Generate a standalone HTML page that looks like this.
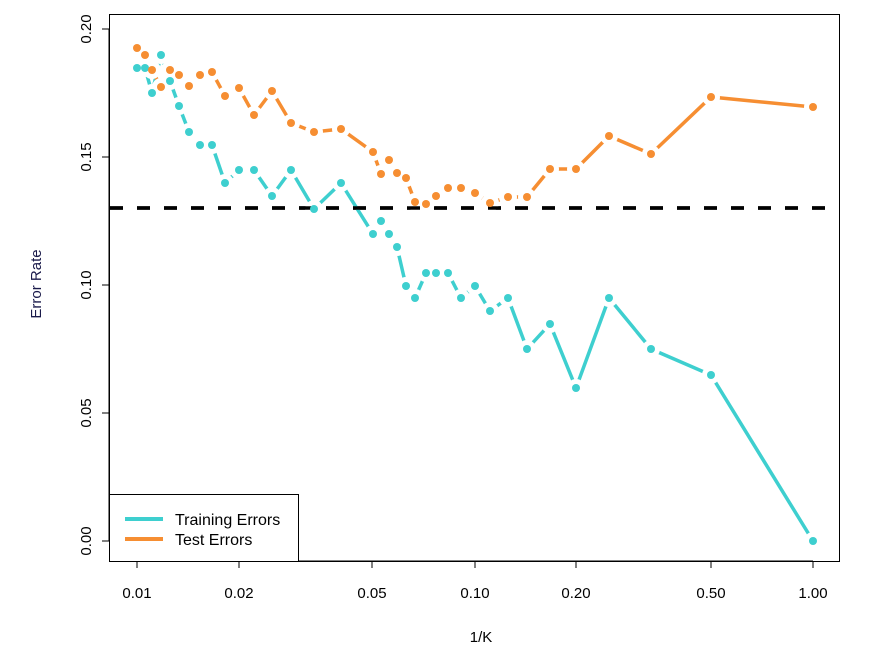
<!DOCTYPE html>
<html><head><meta charset="utf-8"><style>body{margin:0;background:#fff}</style></head><body>
<svg width="877" height="655" xmlns="http://www.w3.org/2000/svg" font-family="Liberation Sans, sans-serif">
<rect x="0" y="0" width="877" height="655" fill="#fff"/>
<g stroke="#000" stroke-width="1">
<rect x="109.5" y="14.5" width="730" height="547" fill="none"/>
<line x1="137" y1="561" x2="813" y2="561"/>
<line x1="137" y1="561" x2="137" y2="568"/><line x1="239" y1="561" x2="239" y2="568"/>
<line x1="372" y1="561" x2="372" y2="568"/><line x1="475" y1="561" x2="475" y2="568"/>
<line x1="576" y1="561" x2="576" y2="568"/><line x1="711" y1="561" x2="711" y2="568"/>
<line x1="813" y1="561" x2="813" y2="568"/>
<line x1="109" y1="29" x2="109" y2="541"/>
<line x1="102" y1="29" x2="109" y2="29"/><line x1="102" y1="157" x2="109" y2="157"/>
<line x1="102" y1="285" x2="109" y2="285"/><line x1="102" y1="413" x2="109" y2="413"/>
<line x1="102" y1="541" x2="109" y2="541"/>
</g>
<g font-size="15" text-anchor="middle" fill="#000">
<text x="137" y="598">0.01</text><text x="239" y="598">0.02</text><text x="372" y="598">0.05</text>
<text x="475" y="598">0.10</text><text x="576" y="598">0.20</text><text x="711" y="598">0.50</text>
<text x="813" y="598">1.00</text>
<text x="481" y="642">1/K</text>
<text transform="translate(91,29) rotate(-90)">0.20</text>
<text transform="translate(91,157) rotate(-90)">0.15</text>
<text transform="translate(91,285) rotate(-90)">0.10</text>
<text transform="translate(91,413) rotate(-90)">0.05</text>
<text transform="translate(91,541) rotate(-90)">0.00</text>
<text transform="translate(41,284) rotate(-90)" fill="#1a1a4a">Error Rate</text>
</g>
<line x1="110" y1="208" x2="839" y2="208" stroke="#000" stroke-width="3.5" stroke-dasharray="13,14"/>
<polyline fill="none" stroke="#3ECFCF" stroke-width="3.5" points="137,68 145,68 152,93 161,55 170,81 179,106 189,132 200,145 212,145 225,183 239,170 254,170 272,196 291,170 314,209 341,183 373,234 381,221 389,234 397,247 406,286 415,298 426,273 436,273 448,273 461,298 475,286 490,311 508,298 527,349 550,324 576,388 609,298 651,349 711,375 813,541"/>
<polyline fill="none" stroke="#F68E32" stroke-width="3.5" points="137,48 145,55 152,70 161,87 170,70 179,75 189,86 200,75 212,72 225,96 239,88 254,115 272,91 291,123 314,132 341,129 373,152 381,174 389,160 397,173 406,178 415,202 426,204 436,196 448,188 461,188 475,193 490,203 508,197 527,197 550,169 576,169 609,136 651,154 711,97 813,107"/>
<g fill="#fff">
<circle cx="137" cy="68" r="9"/><circle cx="145" cy="68" r="9"/><circle cx="152" cy="93" r="9"/><circle cx="161" cy="55" r="9"/><circle cx="170" cy="81" r="9"/><circle cx="179" cy="106" r="9"/><circle cx="189" cy="132" r="9"/><circle cx="200" cy="145" r="9"/><circle cx="212" cy="145" r="9"/><circle cx="225" cy="183" r="9"/><circle cx="239" cy="170" r="9"/><circle cx="254" cy="170" r="9"/><circle cx="272" cy="196" r="9"/><circle cx="291" cy="170" r="9"/><circle cx="314" cy="209" r="9"/><circle cx="341" cy="183" r="9"/><circle cx="373" cy="234" r="9"/><circle cx="381" cy="221" r="9"/><circle cx="389" cy="234" r="9"/><circle cx="397" cy="247" r="9"/><circle cx="406" cy="286" r="9"/><circle cx="415" cy="298" r="9"/><circle cx="426" cy="273" r="9"/><circle cx="436" cy="273" r="9"/><circle cx="448" cy="273" r="9"/><circle cx="461" cy="298" r="9"/><circle cx="475" cy="286" r="9"/><circle cx="490" cy="311" r="9"/><circle cx="508" cy="298" r="9"/><circle cx="527" cy="349" r="9"/><circle cx="550" cy="324" r="9"/><circle cx="576" cy="388" r="9"/><circle cx="609" cy="298" r="9"/><circle cx="651" cy="349" r="9"/><circle cx="711" cy="375" r="9"/><circle cx="813" cy="541" r="9"/>
<circle cx="137" cy="48" r="9"/><circle cx="145" cy="55" r="9"/><circle cx="152" cy="70" r="9"/><circle cx="161" cy="87" r="9"/><circle cx="170" cy="70" r="9"/><circle cx="179" cy="75" r="9"/><circle cx="189" cy="86" r="9"/><circle cx="200" cy="75" r="9"/><circle cx="212" cy="72" r="9"/><circle cx="225" cy="96" r="9"/><circle cx="239" cy="88" r="9"/><circle cx="254" cy="115" r="9"/><circle cx="272" cy="91" r="9"/><circle cx="291" cy="123" r="9"/><circle cx="314" cy="132" r="9"/><circle cx="341" cy="129" r="9"/><circle cx="373" cy="152" r="9"/><circle cx="381" cy="174" r="9"/><circle cx="389" cy="160" r="9"/><circle cx="397" cy="173" r="9"/><circle cx="406" cy="178" r="9"/><circle cx="415" cy="202" r="9"/><circle cx="426" cy="204" r="9"/><circle cx="436" cy="196" r="9"/><circle cx="448" cy="188" r="9"/><circle cx="461" cy="188" r="9"/><circle cx="475" cy="193" r="9"/><circle cx="490" cy="203" r="9"/><circle cx="508" cy="197" r="9"/><circle cx="527" cy="197" r="9"/><circle cx="550" cy="169" r="9"/><circle cx="576" cy="169" r="9"/><circle cx="609" cy="136" r="9"/><circle cx="651" cy="154" r="9"/><circle cx="711" cy="97" r="9"/><circle cx="813" cy="107" r="9"/>
</g>
<line x1="110" y1="208" x2="839" y2="208" stroke="#000" stroke-width="3.5" stroke-dasharray="13,14"/>
<g fill="#3ECFCF">
<circle cx="137" cy="68" r="4"/><circle cx="145" cy="68" r="4"/><circle cx="152" cy="93" r="4"/><circle cx="161" cy="55" r="4"/><circle cx="170" cy="81" r="4"/><circle cx="179" cy="106" r="4"/><circle cx="189" cy="132" r="4"/><circle cx="200" cy="145" r="4"/><circle cx="212" cy="145" r="4"/><circle cx="225" cy="183" r="4"/><circle cx="239" cy="170" r="4"/><circle cx="254" cy="170" r="4"/><circle cx="272" cy="196" r="4"/><circle cx="291" cy="170" r="4"/><circle cx="314" cy="209" r="4"/><circle cx="341" cy="183" r="4"/><circle cx="373" cy="234" r="4"/><circle cx="381" cy="221" r="4"/><circle cx="389" cy="234" r="4"/><circle cx="397" cy="247" r="4"/><circle cx="406" cy="286" r="4"/><circle cx="415" cy="298" r="4"/><circle cx="426" cy="273" r="4"/><circle cx="436" cy="273" r="4"/><circle cx="448" cy="273" r="4"/><circle cx="461" cy="298" r="4"/><circle cx="475" cy="286" r="4"/><circle cx="490" cy="311" r="4"/><circle cx="508" cy="298" r="4"/><circle cx="527" cy="349" r="4"/><circle cx="550" cy="324" r="4"/><circle cx="576" cy="388" r="4"/><circle cx="609" cy="298" r="4"/><circle cx="651" cy="349" r="4"/><circle cx="711" cy="375" r="4"/><circle cx="813" cy="541" r="4"/>
</g>
<g fill="#F68E32">
<circle cx="137" cy="48" r="4"/><circle cx="145" cy="55" r="4"/><circle cx="152" cy="70" r="4"/><circle cx="161" cy="87" r="4"/><circle cx="170" cy="70" r="4"/><circle cx="179" cy="75" r="4"/><circle cx="189" cy="86" r="4"/><circle cx="200" cy="75" r="4"/><circle cx="212" cy="72" r="4"/><circle cx="225" cy="96" r="4"/><circle cx="239" cy="88" r="4"/><circle cx="254" cy="115" r="4"/><circle cx="272" cy="91" r="4"/><circle cx="291" cy="123" r="4"/><circle cx="314" cy="132" r="4"/><circle cx="341" cy="129" r="4"/><circle cx="373" cy="152" r="4"/><circle cx="381" cy="174" r="4"/><circle cx="389" cy="160" r="4"/><circle cx="397" cy="173" r="4"/><circle cx="406" cy="178" r="4"/><circle cx="415" cy="202" r="4"/><circle cx="426" cy="204" r="4"/><circle cx="436" cy="196" r="4"/><circle cx="448" cy="188" r="4"/><circle cx="461" cy="188" r="4"/><circle cx="475" cy="193" r="4"/><circle cx="490" cy="203" r="4"/><circle cx="508" cy="197" r="4"/><circle cx="527" cy="197" r="4"/><circle cx="550" cy="169" r="4"/><circle cx="576" cy="169" r="4"/><circle cx="609" cy="136" r="4"/><circle cx="651" cy="154" r="4"/><circle cx="711" cy="97" r="4"/><circle cx="813" cy="107" r="4"/>
</g>
<rect x="109.5" y="494.5" width="189" height="67" fill="#fff" stroke="#000" stroke-width="1"/>
<line x1="125" y1="519" x2="163" y2="519" stroke="#3ECFCF" stroke-width="4"/>
<line x1="125" y1="539" x2="163" y2="539" stroke="#F68E32" stroke-width="4"/>
<text x="175" y="525" font-size="16" fill="#000">Training Errors</text>
<text x="175" y="545" font-size="16" fill="#000">Test Errors</text>
</svg>
</body></html>
